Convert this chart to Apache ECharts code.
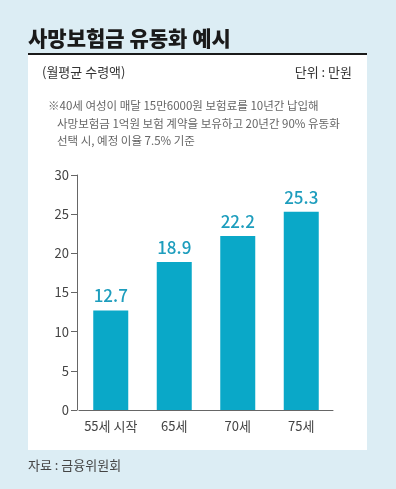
<!DOCTYPE html>
<html>
<head>
<meta charset="utf-8">
<script src="https://cdn.jsdelivr.net/npm/echarts@6/dist/echarts.min.js"></script>
<style>
  html, body { margin: 0; padding: 0; background: #dcedf4; }
  #main { width: 396px; height: 489px; }
</style>
</head>
<body>
<div id="main"></div>
<script>
// 데이터
var categories = ['55세 시작', '65세', '70세', '75세'];
var values = [12.7, 18.9, 22.2, 25.3];
var yTicks = [0, 5, 10, 15, 20, 25, 30];

var FONT = '"Noto Sans CJK KR", "Noto Sans", sans-serif';
var myChart = echarts.init(document.getElementById('main'));

var option = {
    backgroundColor: '#dcedf4',
    animation: false,
    graphic: [
        // 흰 패널
        { type: 'rect', z: -10, shape: { x: 28, y: 55, width: 339, height: 395 }, style: { fill: '#ffffff' } },
        // 제목 아래 검은 선
        { type: 'rect', shape: { x: 28, y: 53, width: 339, height: 2 }, style: { fill: '#1a1a1a' } },
        { type: 'text', left: 28, top: 28, style: { text: '사망보험금 유동화 예시', font: '900 21px ' + FONT, fill: '#1a1a1a' } },
        { type: 'text', left: 42, top: 66, style: { text: '(월평균 수령액)', font: '13px ' + FONT, fill: '#333' } },
        { type: 'text', right: 44, top: 66, style: { text: '단위 : 만원', font: '13px ' + FONT, fill: '#333', textAlign: 'right' } },
        { type: 'text', left: 48, top: 100, style: { text: '※40세 여성이 매달 15만6000원 보험료를 10년간 납입해', font: '11.5px ' + FONT, fill: '#666' } },
        { type: 'text', left: 57, top: 118, style: { text: '사망보험금 1억원 보험 계약을 보유하고 20년간 90% 유동화', font: '11.5px ' + FONT, fill: '#666' } },
        { type: 'text', left: 57, top: 135, style: { text: '선택 시, 예정 이율 7.5% 기준', font: '11.5px ' + FONT, fill: '#666' } },
        { type: 'text', left: 28, top: 459, style: { text: '자료 : 금융위원회', font: '13px ' + FONT, fill: '#444' } }
    ],
    grid: { left: 79, top: 175, width: 254, height: 235, containLabel: false },
    xAxis: {
        type: 'category',
        data: categories,
        axisLine: { lineStyle: { color: '#666', width: 1 } },
        axisTick: { show: false },
        axisLabel: { interval: 0, color: '#444', fontSize: 13, fontFamily: FONT, margin: 10 }
    },
    yAxis: {
        type: 'value',
        min: yTicks[0],
        max: yTicks[yTicks.length - 1],
        interval: 5,
        offset: 2,
        axisLine: { show: true, lineStyle: { color: '#666', width: 1 } },
        axisTick: { show: true, length: 6, lineStyle: { color: '#666' } },
        splitLine: { show: false },
        axisLabel: { color: '#444', fontSize: 13, fontFamily: FONT, margin: 8 }
    },
    series: [{
        type: 'bar',
        data: values,
        barWidth: 35,
        itemStyle: { color: '#0aa8c8' },
        label: {
            show: true,
            position: 'top',
            distance: 6,
            color: '#1d9dbd',
            fontSize: 17,
            fontWeight: 500,
            fontFamily: FONT,
            formatter: function (p) { return p.value.toFixed(1); }
        }
    }]
};
myChart.setOption(option);
</script>
</body>
</html>
